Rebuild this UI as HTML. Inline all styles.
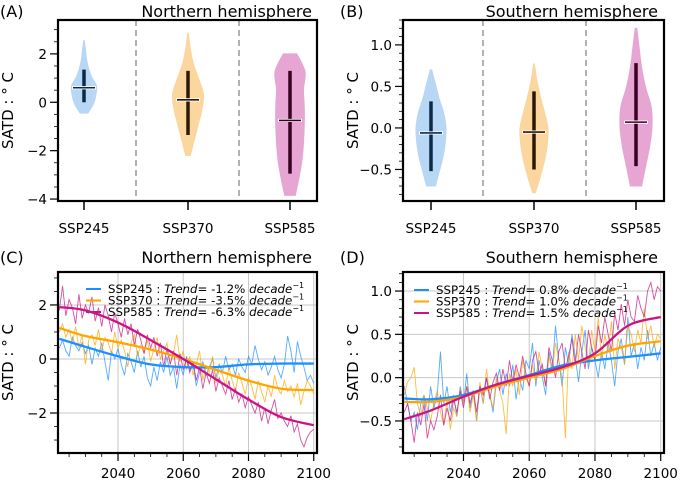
<!DOCTYPE html>
<html><head><meta charset="utf-8"><style>
body{margin:0;background:#fff}
svg{display:block;font-family:"DejaVu Sans","Liberation Sans",sans-serif}
</style></head><body>
<svg id="fig" width="680" height="483" viewBox="0 0 680 483" xmlns="http://www.w3.org/2000/svg"></svg>
<script>
const scenarios=["SSP245","SSP370","SSP585"];
const lineColors=["#1e8fff","#ffa500","#c71585"];
const fillColors=["#b7d7f5","#fbd69e","#e7a5d3"];
const barColors=["#0b2a47","#2a1800","#3a0022"];
// Violin stats: [min,max,barLow,barHigh,median]
const violinNH=[[-0.45,2.55,0,1.35,0.6],[-2.2,2.85,-1.35,1.3,0.1],[-3.85,2.0,-2.95,1.3,-0.75]];
const violinSH=[[-0.7,0.7,-0.52,0.32,-0.06],[-0.78,0.77,-0.5,0.44,-0.05],[-0.7,1.2,-0.46,0.78,0.07]];
const violinMaxHalfNH=[12.5,15.5,15];
const violinMaxHalfSH=[15,14,16];
const profileNH=[[0.3,0.75,0.95,1.0,0.6,0.35,0.2,0.12,0.02],[0.15,0.4,0.65,0.9,1.0,0.7,0.35,0.15,0.02],[0.35,0.6,0.8,0.9,0.95,0.95,0.9,1.0,0.45]];
const profileSH=[[0.3,0.55,0.8,0.95,1.0,0.85,0.55,0.3,0.05],[0.1,0.45,0.75,0.95,1.0,0.75,0.45,0.2,0.03],[0.35,0.6,0.85,1.0,0.95,0.6,0.35,0.2,0.05]];
const yTicksA=[-4,-2,0,2];const yTickLabelsA=["−4","−2","0","2"];
const yTicksB=[-0.5,0,0.5,1.0];const yTickLabelsB=["−0.5","0.0","0.5","1.0"];
const yTicksC=[-2,0,2];const yTickLabelsC=["−2","0","2"];
const yTicksD=[-0.5,0,0.5,1.0];const yTickLabelsD=["−0.5","0.0","0.5","1.0"];
const xTicksCD=[2040,2060,2080,2100];
const trendNH=["-1.2%","-3.5%","-6.3%"];
const trendSH=["0.8%","1.0%","1.5%"];
const smoothYears=[2022,2030,2040,2050,2060,2070,2080,2090,2100];
const smoothNH=[[0.75,0.45,0.1,-0.2,-0.3,-0.3,-0.2,-0.17,-0.17],[1.15,0.85,0.62,0.35,0.0,-0.4,-0.8,-1.1,-1.15],[1.92,1.8,1.35,0.7,0.0,-0.75,-1.5,-2.15,-2.45]];
const smoothSH=[[-0.24,-0.25,-0.2,-0.08,0.03,0.14,0.2,0.24,0.28],[-0.28,-0.28,-0.22,-0.1,0.0,0.1,0.25,0.37,0.42],[-0.48,-0.38,-0.22,-0.08,0.02,0.12,0.28,0.6,0.7]];
const startYear=2022;
const annualNH245=[0.4,0.7,0.3,0.1,0.8,0.5,0.3,0.6,0.2,0.5,-0.2,0.4,0.1,0.6,-0.1,-0.8,0.3,0.0,0.4,-0.2,-0.6,0.2,-0.1,-0.5,0.3,-0.3,0.1,-0.7,-1.0,-0.3,-0.8,-0.1,-0.5,0.1,-0.6,-0.3,-1.1,-0.2,-0.6,0.1,-0.4,-0.2,-1.0,-0.5,-0.1,-0.6,-0.3,0.0,-0.7,-0.2,-0.5,0.1,-0.4,-0.2,-0.6,0.0,-0.3,-0.5,0.1,-0.2,0.5,0.0,-0.4,-0.1,-0.6,-0.3,0.1,-0.4,-0.7,-0.2,0.85,0.3,-0.5,0.65,0.1,-0.3,-0.8,-0.6,-0.9];
const annualNH370=[1.0,1.3,0.8,1.1,0.6,1.2,0.4,0.9,-0.2,0.7,0.9,0.5,1.1,0.3,0.8,0.6,0.2,1.0,0.4,0.7,0.3,-0.3,0.6,0.9,0.1,0.5,0.2,0.7,-0.1,0.4,0.8,0.0,0.3,0.6,-0.2,0.2,0.9,-0.1,0.3,-0.4,0.1,-0.6,-0.2,0.3,-0.8,-0.3,-0.5,0.1,-0.9,-0.4,-0.6,-1.0,-0.3,-0.8,-1.2,-0.5,-0.9,-1.3,-0.7,-1.0,-1.5,-0.8,-1.2,-1.6,-1.0,-1.4,-0.6,-1.1,-1.3,-0.8,-1.2,-1.0,-1.4,-0.9,-1.7,-1.2,-0.8,-1.0,-1.3];
const annualNH585=[1.8,2.7,1.6,2.2,1.9,1.3,2.4,1.5,2.0,1.7,2.3,1.4,1.9,1.2,2.0,1.6,1.0,1.7,1.3,0.8,1.5,0.9,1.3,0.5,1.1,0.7,0.2,0.9,0.4,0.8,0.1,0.6,-0.3,0.4,-0.2,0.3,-0.6,0.2,-0.4,0.0,-0.5,-0.1,-0.8,-0.3,-1.1,-0.5,-0.9,-0.4,-1.2,-0.7,-1.0,-1.3,-0.8,-1.5,-1.1,-1.6,-1.3,-1.8,-1.4,-1.7,-2.0,-1.6,-2.3,-1.8,-2.4,-1.9,-1.5,-2.2,-2.0,-2.3,-2.5,-2.1,-2.7,-2.4,-3.0,-3.25,-2.9,-2.7,-2.6];
const annualSH245=[-0.1,-0.3,-0.5,-0.4,-0.6,-0.3,-0.2,-0.5,-0.1,-0.35,-0.2,0.3,-0.3,-0.1,-0.4,-0.2,-0.45,-0.1,-0.3,0.05,-0.35,-0.15,-0.5,-0.1,-0.3,0.0,-0.2,-0.4,-0.05,0.1,-0.2,0.05,-0.1,0.15,-0.25,0.0,-0.15,0.2,0.1,0.4,-0.1,0.2,0.0,-0.2,0.3,0.1,0.6,0.2,-0.1,0.35,0.15,0.5,0.25,-0.05,0.3,0.55,0.1,0.35,0.2,0.0,0.3,0.1,0.4,0.2,-0.1,0.3,0.45,0.15,0.7,0.25,0.4,0.1,0.35,0.2,0.55,0.25,0.4,0.2,0.35];
const annualSH370=[-0.2,-0.05,0.0,0.12,-0.3,-0.45,-0.2,-0.35,-0.5,-0.3,-0.15,-0.4,-0.55,-0.25,-0.6,-0.35,-0.45,-0.15,-0.3,-0.1,-0.4,-0.2,-0.5,-0.05,-0.3,0.1,-0.2,-0.35,0.0,-0.15,-0.3,-0.65,0.05,-0.1,0.1,-0.2,0.2,0.0,-0.1,0.15,-0.05,0.3,0.1,-0.1,0.25,0.05,0.4,0.2,0.0,-0.7,0.3,0.1,0.5,0.2,0.6,0.35,0.15,0.55,0.3,0.7,0.2,0.5,0.3,0.65,0.1,0.45,0.35,0.15,0.6,0.5,0.3,0.55,0.4,0.8,0.45,0.6,0.35,0.5,0.45];
const annualSH585=[-0.4,-0.3,-0.5,-0.75,-0.4,-0.55,-0.3,-0.7,-0.5,-0.6,-0.45,-0.2,-0.55,-0.35,-0.5,-0.25,-0.4,-0.15,-0.35,-0.1,-0.3,-0.15,-0.4,-0.1,-0.2,0.0,-0.25,-0.05,0.05,-0.15,0.1,-0.1,0.2,-0.05,0.15,0.0,0.25,0.05,-0.1,0.2,0.3,0.05,0.15,-0.1,0.35,0.2,0.0,0.3,0.4,0.1,0.25,0.45,0.15,0.5,0.3,0.1,0.55,0.35,0.2,0.6,0.4,0.7,0.5,0.3,0.75,0.55,0.85,0.6,0.9,0.7,0.65,0.95,0.8,0.7,1.0,1.1,0.9,1.05,1.0];

const NS="http://www.w3.org/2000/svg";
const svg=document.getElementById('fig');
function mk(tag,attrs,parent,text){const e=document.createElementNS(NS,tag);for(const k in attrs)e.setAttribute(k,attrs[k]);if(text!==undefined)e.textContent=text;(parent||svg).appendChild(e);return e;}
function lin(d0,d1,r0,r1){return v=>r0+(v-d0)*(r1-r0)/(d1-d0);}
function smoothPath(pts){let d="M"+pts[0][0]+","+pts[0][1];for(let i=0;i<pts.length-1;i++){const p0=pts[Math.max(0,i-1)],p1=pts[i],p2=pts[i+1],p3=pts[Math.min(pts.length-1,i+2)];const c1=[p1[0]+(p2[0]-p0[0])/6,p1[1]+(p2[1]-p0[1])/6],c2=[p2[0]-(p3[0]-p1[0])/6,p2[1]-(p3[1]-p1[1])/6];d+=" C"+c1[0]+","+c1[1]+" "+c2[0]+","+c2[1]+" "+p2[0]+","+p2[1];}return d;}

function panelTitle(g,label,title,lx,tx,y){
  const a=mk('text',{x:lx,y:y,'font-size':16},g,label);
  
  const t=mk('text',{x:tx,y:y,'font-size':16,'text-anchor':'end'},g,title);
  
}
function yAxis(g,L,T,B,ys,ticks,labels,minorStep,lo,hi){
  for(let v=Math.ceil(lo/minorStep)*minorStep;v<=hi+1e-9;v+=minorStep){const y=ys(v);if(y<T-0.5||y>B+0.5)continue;mk('line',{x1:L-4,x2:L,y1:y,y2:y,stroke:'#000','stroke-width':0.8},g);}
  ticks.forEach((v,i)=>{const y=ys(v);mk('line',{x1:L-8,x2:L,y1:y,y2:y,stroke:'#000','stroke-width':1.2},g);
    const t=mk('text',{x:L-11,y:y+5,'font-size':13.5,'text-anchor':'end'},g,labels[i]);
    });
  const yl=mk('text',{x:0,y:0,'font-size':15,'text-anchor':'middle',transform:`translate(${L-45},${(T+B)/2}) rotate(-90)`},g,"SATD : ° C");
  
}
function frame(g,L,T,R,B){const f=mk('rect',{x:L,y:T,width:R-L,height:B-T,fill:'none',stroke:'#000','stroke-width':2.2},g);}

function violinPanel(name,L,T,R,B,d0,d1,stats,halfs,profiles,ticks,labels,minor,centers,seps){
  const g=mk('g',{});
  const ys=lin(d0,d1,B,T);
  seps.forEach(x=>mk('line',{x1:x,x2:x,y1:T,y2:B,stroke:'#999','stroke-width':1.5,'stroke-dasharray':'6,4'},g));
  stats.forEach((s,i)=>{const cx=centers[i];const prof=profiles[i];const n=prof.length;
    const right=prof.map((w,j)=>[cx+w*halfs[i],ys(s[0]+(s[1]-s[0])*j/(n-1))]);
    const left=prof.map((w,j)=>[cx-w*halfs[i],ys(s[0]+(s[1]-s[0])*j/(n-1))]).reverse();
    let d=smoothPath(right);const dl=smoothPath(left);d+=" L"+dl.slice(1)+" Z";
    const v=mk('path',{d:d,fill:fillColors[i],stroke:fillColors[i],'stroke-width':1},g);
    
    const b=mk('line',{x1:cx,x2:cx,y1:ys(s[2]),y2:ys(s[3]),stroke:barColors[i],'stroke-width':3.5},g);
    
    mk('line',{x1:cx-12,x2:cx+12,y1:ys(s[4]),y2:ys(s[4]),stroke:'#fff','stroke-width':3.2},g);
    const m=mk('line',{x1:cx-11,x2:cx+11,y1:ys(s[4]),y2:ys(s[4]),stroke:barColors[i],'stroke-width':1.6},g);
    
    mk('line',{x1:cx,x2:cx,y1:B,y2:B+9,stroke:'#000','stroke-width':1.5},g);
    const t=mk('text',{x:cx,y:B+32,'font-size':13.5,'text-anchor':'middle'},g,scenarios[i]);
    
  });
  yAxis(g,L,T,B,ys,ticks,labels,minor,d0,d1);
  frame(g,L,T,R,B);
  return g;
}
function tsPanel(name,L,T,R,B,d0,d1,annual,smooth,trends,ticks,labels,minor,legX,legY){
  const g=mk('g',{});
  const xs=lin(2021.6,2101,L,R),ys=lin(d0,d1,B,T);
  xTicksCD.forEach(v=>mk('line',{x1:xs(v),x2:xs(v),y1:T,y2:B,stroke:'#c8c8c8','stroke-width':1},g));
  ticks.forEach(v=>mk('line',{x1:L,x2:R,y1:ys(v),y2:ys(v),stroke:'#c8c8c8','stroke-width':1},g));
  annual.forEach((arr,i)=>{const pts=arr.map((v,j)=>xs(startYear+j).toFixed(2)+","+ys(v).toFixed(2)).join(" ");
    const p=mk('polyline',{points:pts,fill:'none',stroke:lineColors[i],'stroke-width':0.9,'stroke-opacity':0.75},g);
    });
  smooth.forEach((arr,i)=>{const pts=arr.map((v,j)=>[xs(smoothYears[j]),ys(v)]);
    const p=mk('path',{d:smoothPath(pts),fill:'none',stroke:lineColors[i],'stroke-width':2.3},g);
    });
  for(let yr=2025;yr<=2100;yr+=5){mk('line',{x1:xs(yr),x2:xs(yr),y1:B,y2:B+(yr%20===0?8:4),stroke:'#000','stroke-width':yr%20===0?1.2:0.8},g);}
  xTicksCD.forEach(v=>{const t=mk('text',{x:xs(v),y:B+25,'font-size':13.5,'text-anchor':'middle'},g,String(v));});
  yAxis(g,L,T,B,ys,ticks,labels,minor,d0,d1);
  trends.forEach((tr,i)=>{const y=legY+i*11.5;
    const lg=mk('g',{},g);
    mk('line',{x1:legX,x2:legX+15,y1:y-4,y2:y-4,stroke:lineColors[i],'stroke-width':2},lg);
    const t=mk('text',{x:legX+22,y:y,'font-size':11.8},lg);
    mk('tspan',{},t,scenarios[i]+" : ");mk('tspan',{'font-style':'italic'},t,"Trend");mk('tspan',{},t,"= "+tr+" ");
    mk('tspan',{'font-style':'italic'},t,"decade");mk('tspan',{'font-size':8,dy:-5},t,"−1");});
  frame(g,L,T,R,B);
}
panelTitle(svg,"(A)","Northern hemisphere",0,312,17);
panelTitle(svg,"(B)","Southern hemisphere",340+0,658,17);
panelTitle(svg,"(C)","Northern hemisphere",0,312,263);
panelTitle(svg,"(D)","Southern hemisphere",340+0,658,263);
violinPanel('panel-a',58,20,317,201,-4.08,3.4,violinNH,violinMaxHalfNH,profileNH,yTicksA,yTickLabelsA,0.5,[84,188,290],[136,239]);
violinPanel('panel-b',403,20,664,201,-0.88,1.3,violinSH,violinMaxHalfSH,profileSH,yTicksB,yTickLabelsB,0.1,[431,534,636],[483,586]);
tsPanel('panel-c',58,272,317,453,-3.48,3.22,[annualNH245,annualNH370,annualNH585],smoothNH,trendNH,yTicksC,yTickLabelsC,0.5,86,293);
tsPanel('panel-d',403,272,664,453,-0.87,1.22,[annualSH245,annualSH370,annualSH585],smoothSH,trendSH,yTicksD,yTickLabelsD,0.1,414,294);
</script>
</body></html>
